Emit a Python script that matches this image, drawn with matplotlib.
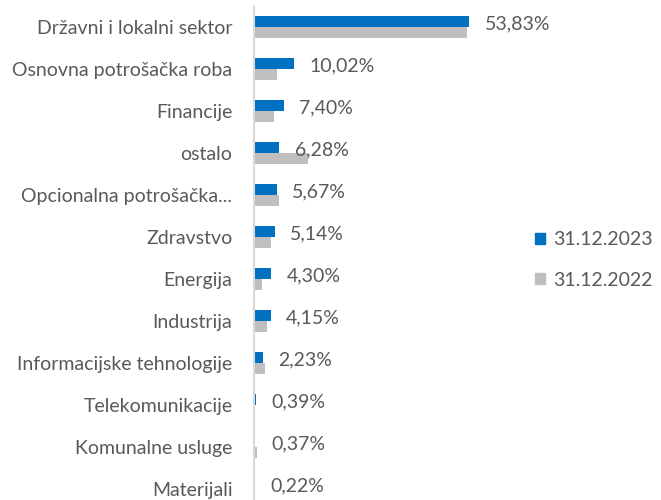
import matplotlib
matplotlib.use("Agg")
import matplotlib.pyplot as plt
from matplotlib.patches import Patch

categories = ["Državni i lokalni sektor", "Osnovna potrošačka roba", "Financije", "ostalo",
              "Opcionalna potrošačka...", "Zdravstvo", "Energija", "Industrija",
              "Informacijske tehnologije", "Telekomunikacije", "Komunalne usluge", "Materijali"]
values_2023 = [53.83, 10.02, 7.40, 6.28, 5.67, 5.14, 4.30, 4.15, 2.23, 0.39, 0.37, 0.22]
values_2022 = [53.2, 5.7, 5.1, 13.6, 6.2, 4.2, 2.1, 3.3, 2.7, 0.25, 0.7, 0.05]
labels_2023 = ["53,83%", "10,02%", "7,40%", "6,28%", "5,67%", "5,14%", "4,30%", "4,15%",
               "2,23%", "0,39%", "0,37%", "0,22%"]
series_names = ["31.12.2023", "31.12.2022"]

BLUE = "#0070C0"
GREY = "#BFBFBF"
TXT = "#595959"
FONT = ["Lato", "DejaVu Sans"]
plt.rcParams['font.family'] = FONT
FS = 14

fig = plt.figure(figsize=(6.61, 5.00), dpi=100)
W, H = 661, 500
x0, x1 = 254, 494
top, bottom = 6, 500
ax = fig.add_axes([x0 / W, 1 - bottom / H, (x1 - x0) / W, (bottom - top) / H])

n = len(categories)
ys = list(range(n))
bh = 0.26
ax.barh([y - bh / 2 for y in ys], values_2023, height=bh, color=BLUE, label=series_names[0])
ax.barh([y + bh / 2 for y in ys], values_2022, height=bh, color=GREY, label=series_names[1])

for y, v, lab in zip(ys, values_2023, labels_2023):
    ax.annotate(lab, (v, y - bh / 2), xytext=(11.2, -1.8), textcoords="offset points",
                va="center", ha="left", fontsize=FS, color=TXT)

ax.set_xlim(0, 60)
spacing = 42.0
c0 = 27
ax.set_ylim((bottom - c0) / spacing, (top - c0) / spacing)
ax.set_yticks(ys)
ax.set_yticklabels(categories, fontsize=FS, color=TXT)
ax.tick_params(axis="y", length=0, pad=15.5)
ax.set_xticks([])
for s in ["top", "right", "bottom"]:
    ax.spines[s].set_visible(False)
ax.spines["left"].set_color("#D9D9D9")
ax.spines["left"].set_linewidth(1.5)

handles = [Patch(color=BLUE), Patch(color=GREY)]
fig.legend(handles, series_names, loc="center left", bbox_to_anchor=(535 / W, 1 - 260 / H),
           frameon=False, fontsize=FS, labelcolor=TXT, handlelength=0.52, handleheight=0.52,
           handletextpad=0.4, labelspacing=1.2, borderpad=0, borderaxespad=0)

fig.savefig("out.png", dpi=100)
